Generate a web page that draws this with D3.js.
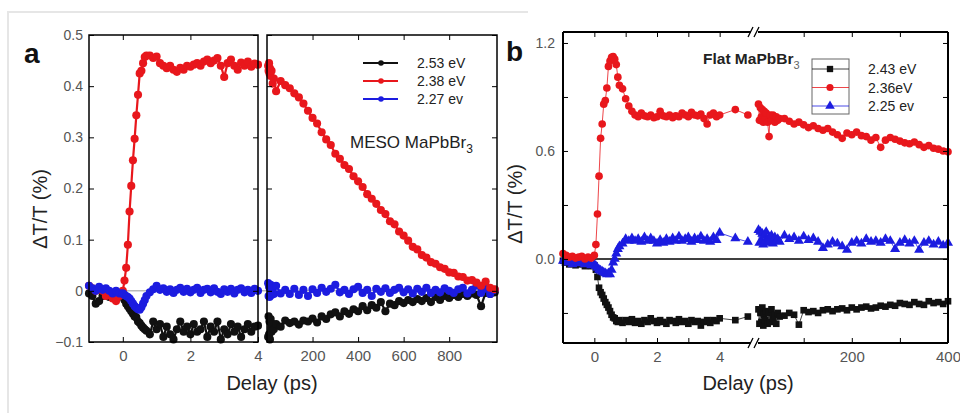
<!DOCTYPE html>
<html>
<head>
<meta charset="utf-8">
<script src="https://cdn.jsdelivr.net/npm/d3@7"></script>
<style>
    body { margin: 0; background: #fff; }
    svg { display: block; font-family: Arial, "Liberation Sans", sans-serif; }
</style>
</head>
<body>
<svg id="chart" width="960" height="415"></svg>
<script>
"use strict";

// ---- panel a : MESO MaPbBr3, short delays (ps)
const tA1 = [-1.0, -0.9, -0.8, -0.7, -0.6, -0.5, -0.4, -0.3, -0.2, -0.1, 0.0,
    0.05, 0.1, 0.15, 0.2, 0.25, 0.3, 0.35, 0.4, 0.45, 0.5, 0.55, 0.6, 0.65, 0.7,
    0.8, 0.9, 1.0, 1.1, 1.2, 1.3, 1.4, 1.5, 1.6, 1.7, 1.8, 1.9, 2.0, 2.1, 2.2, 2.3, 2.4,
    2.5, 2.6, 2.7, 2.8, 2.9, 3.0, 3.1, 3.2, 3.3, 3.4, 3.5, 3.6, 3.7, 3.8, 3.9, 4.0];
const blackA1 = [-0.005, -0.01, -0.025, -0.02, -0.01, -0.005, -0.012, -0.008, -0.015, -0.01, -0.012,
    -0.018, -0.025, -0.03, -0.035, -0.04, -0.045, -0.05, -0.052, -0.06, -0.063, -0.068, -0.072, -0.075, -0.078,
    -0.085, -0.06, -0.075, -0.065, -0.09, -0.07, -0.085, -0.095, -0.075, -0.06, -0.08, -0.07, -0.085, -0.065,
    -0.08, -0.075, -0.06, -0.09, -0.07, -0.08, -0.06, -0.095, -0.075, -0.085, -0.065, -0.08, -0.07, -0.09,
    -0.075, -0.065, -0.08, -0.07, -0.068];
const redA1 = [0.01, 0.005, 0.0, 0.005, 0.0, -0.01, -0.005, -0.015, -0.02, -0.01, 0.0,
    0.02, 0.045, 0.09, 0.155, 0.205, 0.255, 0.297, 0.343, 0.383, 0.425, 0.43, 0.445, 0.457, 0.46,
    0.46, 0.455, 0.458, 0.445, 0.44, 0.435, 0.44, 0.432, 0.428, 0.436, 0.432, 0.44, 0.438, 0.442,
    0.445, 0.44, 0.448, 0.452, 0.445, 0.45, 0.455, 0.44, 0.418, 0.445, 0.452, 0.44, 0.432, 0.446,
    0.44, 0.448, 0.438, 0.444, 0.442];
const blueA1 = [0.01, 0.005, 0.0, 0.008, 0.002, 0.005, 0.0, -0.005, 0.0, -0.005, -0.005,
    -0.008, -0.01, -0.012, -0.015, -0.02, -0.025, -0.03, -0.033, -0.036, -0.037, -0.032, -0.025, -0.018, -0.01,
    -0.003, 0.003, 0.01, 0.002, 0.005, -0.002, 0.003, -0.004, 0.002, 0.006, -0.002, 0.004, -0.003, 0.002,
    0.006, -0.004, 0.002, 0.004, -0.003, 0.005, -0.002, -0.006, 0.003, -0.002, 0.004, -0.005, 0.002, 0.005,
    -0.003, 0.002, -0.004, 0.004, 0.0];

// ---- panel a : long delays (ps)
const tA2 = [5, 7, 9, 11, 13, 16, 20, 25, 30,
    40, 60, 80, 100, 120, 140, 160, 180, 200, 220, 240, 260, 280, 300,
    320, 340, 360, 380, 400, 420, 440, 460, 480, 500, 520, 540, 560, 580, 600, 620, 640, 660,
    680, 700, 720, 740, 760, 780, 800, 820, 840, 860, 880, 900, 920, 940, 960, 980, 1000];
const blackA2 = [-0.09, -0.05, -0.085, -0.06, -0.095, -0.055, -0.08, -0.065, -0.075,
    -0.065, -0.07, -0.058, -0.063, -0.06, -0.066, -0.058, -0.06, -0.054,
    -0.062, -0.05, -0.055, -0.046, -0.042, -0.05, -0.04, -0.045, -0.036, -0.04,
    -0.03, -0.038, -0.028, -0.033, -0.022, -0.04, -0.025, -0.028, -0.02, -0.024,
    -0.018, -0.022, -0.016, -0.02, -0.014, -0.022, -0.012, -0.018, -0.01, -0.014,
    -0.008, -0.012, -0.006, -0.01, -0.005, -0.008, -0.03, -0.004, -0.006, -0.003];
const redA2 = [0.44, 0.43, 0.445, 0.425, 0.435, 0.42, 0.43, 0.405, 0.415,
    0.39, 0.41, 0.402, 0.396, 0.386, 0.378, 0.366, 0.352, 0.338,
    0.327, 0.31, 0.296, 0.285, 0.268, 0.258, 0.246, 0.238, 0.224, 0.214,
    0.203, 0.189, 0.18, 0.17, 0.158, 0.15, 0.136, 0.13, 0.116, 0.108,
    0.098, 0.086, 0.081, 0.07, 0.065, 0.056, 0.053, 0.046, 0.043, 0.036,
    0.035, 0.028, 0.027, 0.02, 0.021, 0.016, 0.01, 0.018, 0.006, 0.003];
const blueA2 = [0.015, -0.01, 0.008, -0.012, 0.005, 0.012, -0.008, 0.004, -0.006,
    0.01, -0.005, 0.002, -0.006, 0.004, -0.008, 0.002, -0.01, 0.003,
    -0.004, 0.006, -0.002, 0.004, 0.012, -0.003, 0.002, -0.006, 0.003, 0.008,
    -0.004, 0.002, -0.01, 0.004, -0.002, 0.005, -0.004, 0.002, 0.006, -0.003,
    0.003, -0.005, 0.004, -0.002, 0.006, -0.004, 0.002, -0.003, 0.005, 0.0,
    -0.004, 0.003, 0.006, -0.005, 0.002, 0.01, -0.004, 0.004, -0.006, 0.002];

// ---- panel b : Flat MaPbBr3, short delays (ps)
const tB1 = [-1.0, -0.9, -0.8, -0.7, -0.6, -0.5, -0.4, -0.3, -0.2, -0.1, 0.0,
    0.05, 0.1, 0.15, 0.2, 0.25, 0.3, 0.35, 0.4, 0.45, 0.5, 0.55, 0.6, 0.65, 0.7, 0.75, 0.8,
    0.9, 1.0, 1.1, 1.2, 1.3, 1.4, 1.5, 1.6, 1.7, 1.8, 1.9, 2.0, 2.1, 2.2, 2.3, 2.4, 2.5, 2.6,
    2.7, 2.8, 2.9, 3.0, 3.1, 3.2, 3.3, 3.4, 3.5, 3.6, 3.7, 3.8, 3.9, 4.0,
    4.5, 4.9];
const blackB1 = [-0.01, -0.02, -0.03, -0.02, -0.035, -0.03, -0.025, -0.04, -0.03, -0.04, -0.035,
    -0.06, -0.1, -0.16, -0.185, -0.2, -0.22, -0.24, -0.255, -0.27, -0.29, -0.31, -0.325, -0.33, -0.345, -0.35, -0.34,
    -0.355, -0.34, -0.35, -0.335, -0.355, -0.345, -0.36, -0.34, -0.35, -0.33, -0.345, -0.355, -0.34, -0.35,
    -0.36, -0.34, -0.345, -0.355, -0.335, -0.35, -0.345, -0.36, -0.34, -0.35, -0.345, -0.37, -0.35, -0.34,
    -0.355, -0.34, -0.345, -0.33,
    -0.34, -0.32];
const redB1 = [0.03, 0.02, 0.01, 0.015, 0.005, 0.01, 0.015, 0.0, 0.01, 0.005, 0.02,
    0.08, 0.25, 0.46, 0.67, 0.75, 0.86, 0.88, 0.95, 1.07, 1.1, 1.12, 1.125, 1.11, 1.08, 1.01, 0.965,
    0.945, 0.89, 0.85, 0.82, 0.8, 0.79, 0.81, 0.795, 0.79, 0.8, 0.785, 0.79, 0.82, 0.795,
    0.79, 0.8, 0.785, 0.795, 0.79, 0.81, 0.8, 0.79, 0.815, 0.8, 0.795, 0.805, 0.78, 0.75,
    0.8, 0.81, 0.79, 0.8,
    0.83, 0.8];
const blueB1 = [-0.01, -0.02, -0.015, -0.03, -0.02, -0.025, -0.015, -0.03, -0.025, -0.035, -0.03,
    -0.04, -0.05, -0.06, -0.065, -0.07, -0.075, -0.08, -0.085, -0.08, -0.085, -0.06, -0.02, 0.0, 0.03, 0.055, 0.07,
    0.085, 0.11, 0.1, 0.115, 0.1, 0.11, 0.095, 0.12, 0.1, 0.115, 0.1, 0.085, 0.105, 0.09,
    0.11, 0.095, 0.115, 0.1, 0.125, 0.1, 0.11, 0.12, 0.095, 0.115, 0.105, 0.125, 0.1, 0.11,
    0.095, 0.12, 0.105, 0.145,
    0.115, 0.095];

// ---- panel b : long delays (ps)
const tB2 = [6, 8, 10, 12, 14, 16, 18, 20, 22, 25, 28, 30, 33, 36, 40, 43, 46, 50,
    60, 70, 80, 90, 100, 110, 120, 130, 140, 150, 160, 170, 180, 190, 200, 210, 220, 230,
    240, 250, 260, 270, 280, 290, 300, 310, 320, 330, 340, 350, 360, 370, 380, 390, 400];
const blackB2 = [-0.28, -0.36, -0.3, -0.35, -0.27, -0.37, -0.31, -0.34, -0.29, -0.36, -0.3, -0.35,
    -0.28, -0.33, -0.31, -0.36, -0.3, -0.32,
    -0.315, -0.3, -0.31, -0.365, -0.285, -0.295, -0.29, -0.3, -0.285, -0.28, -0.29, -0.28,
    -0.275, -0.285, -0.27, -0.28, -0.27, -0.265, -0.275, -0.27, -0.26, -0.265, -0.255, -0.26,
    -0.245, -0.25, -0.255, -0.24, -0.25, -0.255, -0.235, -0.245, -0.24, -0.25, -0.235];
const redB2 = [0.86, 0.77, 0.84, 0.79, 0.83, 0.76, 0.82, 0.78, 0.81, 0.76, 0.68, 0.8,
    0.77, 0.8, 0.76, 0.79, 0.77, 0.78,
    0.78, 0.765, 0.75, 0.76, 0.745, 0.73, 0.74, 0.725, 0.715, 0.725, 0.705, 0.69,
    0.67, 0.7, 0.69, 0.705, 0.685, 0.68, 0.66, 0.675, 0.62, 0.66, 0.675, 0.665,
    0.655, 0.645, 0.64, 0.65, 0.635, 0.62, 0.63, 0.615, 0.61, 0.6, 0.595];
const blueB2 = [0.16, 0.09, 0.15, 0.1, 0.14, 0.08, 0.13, 0.1, 0.15, 0.09, 0.12, 0.1,
    0.13, 0.085, 0.12, 0.1, 0.11, 0.095,
    0.13, 0.11, 0.12, 0.1, 0.125, 0.105, 0.115, 0.095, 0.06, 0.08, 0.095, 0.085,
    0.07, 0.05, 0.09, 0.1, 0.085, 0.11, 0.095, 0.1, 0.09, 0.11, 0.1, 0.055,
    0.09, 0.105, 0.085, 0.1, 0.05, 0.09, 0.1, 0.08, 0.095, 0.075, 0.09];

const seriesA = ["2.53 eV", "2.38 eV", "2.27 ev"];
const seriesB = ["2.43 eV", "2.36eV", "2.25 ev"];
const yTicksA = [-0.1, 0, 0.1, 0.2, 0.3, 0.4, 0.5];
const yTicksB = [-0.3, 0, 0.3, 0.6, 0.9, 1.2];
const yLabelsB = [0, 0.6, 1.2];

const RED = "#e8171c", BLUE = "#1c1ce0", BLACK = "#111";
const TICKCOL = "#555";

const svg = d3.select("#chart");

// faint page frame
svg.append("path").attr("d", "M8,413V12H528").attr("fill", "none")
    .attr("stroke", "#e6e6e6").attr("stroke-width", 2);

function drawSeries(g, xs, ys, times, values, color, shape, size, lineW) {
    const pts = times.map(function (t, i) { return [xs(t), ys(values[i])]; });
    g.append("path").attr("d", d3.line()(pts)).attr("fill", "none")
        .attr("stroke", color).attr("stroke-width", lineW);
    g.selectAll(null).data(pts).enter().append("path")
        .attr("transform", function (d) { return "translate(" + d[0] + "," + d[1] + ")"; })
        .attr("d", d3.symbol().type(shape).size(size))
        .attr("fill", color);
}

function tickAxis(g, axis, transform, fontSize) {
    const a = g.append("g").attr("transform", transform).call(axis);
    a.select(".domain").remove();
    a.selectAll("line").attr("stroke", "#000").attr("stroke-width", 1);
    a.selectAll("text").attr("fill", TICKCOL).style("font-size", fontSize + "px")
        .style("font-family", "Arial, 'Liberation Sans', sans-serif");
    return a;
}

// ================= panel a =================
(function () {
    const top = 35, bottom = 342;
    const yA = d3.scaleLinear().domain([-0.1, 0.5]).range([bottom, top]);
    const xA1 = d3.scaleLinear().domain([-1, 4]).range([89, 258]);
    const xA2 = d3.scaleLinear().domain([0, 1010]).range([267, 497]);
    const g = svg.append("g");

    // zero line
    g.append("line").attr("x1", 89).attr("x2", 497).attr("y1", yA(0)).attr("y2", yA(0))
        .attr("stroke", "#999").attr("stroke-width", 1);

    const ms = 52;
    drawSeries(g, xA1, yA, tA1, blackA1, BLACK, d3.symbolCircle, ms, 2.2);
    drawSeries(g, xA1, yA, tA1, redA1, RED, d3.symbolCircle, ms, 2.2);
    drawSeries(g, xA1, yA, tA1, blueA1, BLUE, d3.symbolCircle, ms, 2.2);
    drawSeries(g, xA2, yA, tA2, blackA2, BLACK, d3.symbolCircle, ms, 2.2);
    drawSeries(g, xA2, yA, tA2, blueA2, BLUE, d3.symbolCircle, ms, 2.2);
    drawSeries(g, xA2, yA, tA2, redA2, RED, d3.symbolCircle, ms, 2.2);

    // frames
    [[89, 258], [267, 497]].forEach(function (r) {
        g.append("rect").attr("x", r[0]).attr("y", top).attr("width", r[1] - r[0])
            .attr("height", bottom - top).attr("fill", "none").attr("stroke", "#000").attr("stroke-width", 1.5);
    });

    const fmtA = function (d) { return d === 0 ? "0" : d3.format(".1f")(d); };
    tickAxis(g, d3.axisLeft(yA).tickValues(yTicksA).tickSize(-5).tickPadding(6).tickFormat(fmtA), "translate(89,0)", 14);
    tickAxis(g, d3.axisRight(yA).tickValues(yTicksA).tickSize(-5).tickFormat(""), "translate(258,0)", 14);
    tickAxis(g, d3.axisLeft(yA).tickValues(yTicksA).tickSize(-5).tickFormat(""), "translate(267,0)", 14);
    tickAxis(g, d3.axisRight(yA).tickValues(yTicksA).tickSize(-5).tickFormat(""), "translate(497,0)", 14);
    tickAxis(g, d3.axisBottom(xA1).tickValues([0, 2, 4]).tickSize(-5).tickPadding(8).tickFormat(d3.format("d")), "translate(0," + bottom + ")", 15);
    tickAxis(g, d3.axisTop(xA1).tickValues([0, 2]).tickSize(-5).tickFormat(""), "translate(0," + top + ")", 15);
    tickAxis(g, d3.axisBottom(xA2).tickValues([200, 400, 600, 800]).tickSize(-5).tickPadding(8).tickFormat(d3.format("d")), "translate(0," + bottom + ")", 15);
    tickAxis(g, d3.axisTop(xA2).tickValues([200, 400, 600, 800]).tickSize(-5).tickFormat(""), "translate(0," + top + ")", 15);

    // legend
    const legColors = [BLACK, RED, BLUE];
    seriesA.forEach(function (name, i) {
        const y = 63 + i * 18;
        g.append("line").attr("x1", 363).attr("x2", 398).attr("y1", y).attr("y2", y)
            .attr("stroke", legColors[i]).attr("stroke-width", 2);
        g.append("circle").attr("cx", 381).attr("cy", y).attr("r", 2.8).attr("fill", legColors[i]);
        g.append("text").attr("x", 417).attr("y", y + 5).text(name)
            .style("font-size", "14px").attr("fill", "#222");
    });

    const lab = g.append("text").attr("x", 350).attr("y", 148).style("font-size", "17px").attr("fill", "#222");
    lab.append("tspan").text("MESO MaPbBr");
    lab.append("tspan").attr("dy", 5).style("font-size", "12px").text("3");

    g.append("text").attr("x", 24).attr("y", 63).text("a")
        .style("font-size", "28px").style("font-weight", "bold").attr("fill", "#111");
    g.append("text").attr("transform", "translate(47,209) rotate(-90)").attr("text-anchor", "middle")
        .text("\u0394T/T (%)").style("font-size", "20px").attr("fill", "#222");
    g.append("text").attr("x", 272).attr("y", 390).attr("text-anchor", "middle")
        .text("Delay (ps)").style("font-size", "20px").attr("fill", "#222");
})();

// ================= panel b =================
(function () {
    const top = 32, bottom = 343, left = 563, right = 948;
    const yB = d3.scaleLinear().domain([-0.467, 1.261]).range([bottom, top]);
    const xB1 = d3.scaleLinear().domain([-1, 5]).range([left, 751]);
    const xB2 = d3.scaleLinear().domain([5, 400]).range([758, right]);
    const g = svg.append("g");

    g.append("line").attr("x1", left).attr("x2", right).attr("y1", yB(0)).attr("y2", yB(0))
        .attr("stroke", "#000").attr("stroke-width", 1.6);

    const shapes = [d3.symbolSquare, d3.symbolCircle, d3.symbolTriangle];
    drawSeries(g, xB1, yB, tB1, blackB1, BLACK, shapes[0], 44, 0.8);
    drawSeries(g, xB1, yB, tB1, blueB1, BLUE, shapes[2], 44, 0.8);
    drawSeries(g, xB1, yB, tB1, redB1, RED, shapes[1], 46, 0.8);
    drawSeries(g, xB2, yB, tB2, blackB2, BLACK, shapes[0], 44, 0.8);
    drawSeries(g, xB2, yB, tB2, blueB2, BLUE, shapes[2], 44, 0.8);
    drawSeries(g, xB2, yB, tB2, redB2, RED, shapes[1], 46, 0.8);

    // frame with broken x axis
    const fr = "M" + left + "," + top + "V" + bottom + "M" + right + "," + top + "V" + bottom +
        "M" + left + "," + top + "H751M758," + top + "H" + right +
        "M" + left + "," + bottom + "H751M758," + bottom + "H" + right;
    g.append("path").attr("d", fr).attr("fill", "none").attr("stroke", "#000").attr("stroke-width", 2);
    [top, bottom].forEach(function (y) {
        g.append("path").attr("d", "M748," + (y + 5) + "L753," + (y - 5) + "M754," + (y + 5) + "L759," + (y - 5))
            .attr("fill", "none").attr("stroke", "#000").attr("stroke-width", 1.3);
    });

    const fmtB = function (d) { return yLabelsB.indexOf(d) >= 0 ? d3.format(".1f")(d) : ""; };
    tickAxis(g, d3.axisLeft(yB).tickValues(yTicksB).tickSize(-5).tickPadding(8).tickFormat(fmtB), "translate(" + left + ",0)", 14);
    tickAxis(g, d3.axisRight(yB).tickValues(yTicksB).tickSize(-5).tickFormat(""), "translate(" + right + ",0)", 14);
    const fmtX1 = function (d) { return d % 2 === 0 ? String(d) : ""; };
    tickAxis(g, d3.axisBottom(xB1).tickValues([0, 1, 2, 3, 4]).tickSize(-5).tickPadding(8).tickFormat(fmtX1), "translate(0," + bottom + ")", 15);
    tickAxis(g, d3.axisTop(xB1).tickValues([0, 1, 2, 3, 4]).tickSize(-5).tickFormat(""), "translate(0," + top + ")", 15);
    const fmtX2 = function (d) { return d % 200 === 0 ? String(d) : ""; };
    tickAxis(g, d3.axisBottom(xB2).tickValues([100, 200, 300, 400]).tickSize(-5).tickPadding(8).tickFormat(fmtX2), "translate(0," + bottom + ")", 15);
    tickAxis(g, d3.axisTop(xB2).tickValues([100, 200, 300]).tickSize(-5).tickFormat(""), "translate(0," + top + ")", 15);

    // legend
    g.append("rect").attr("x", 812).attr("y", 59).attr("width", 37).attr("height", 55)
        .attr("fill", "#fff").attr("stroke", "#666").attr("stroke-width", 1);
    const legColors = [BLACK, RED, BLUE];
    const legShapes = [shapes[0], shapes[1], shapes[2]];
    seriesB.forEach(function (name, i) {
        const y = 69 + i * 18.5;
        g.append("line").attr("x1", 812).attr("x2", 849).attr("y1", y).attr("y2", y)
            .attr("stroke", legColors[i]).attr("stroke-width", 0.8);
        g.append("path").attr("transform", "translate(830," + y + ")")
            .attr("d", d3.symbol().type(legShapes[i]).size(40)).attr("fill", legColors[i]);
        g.append("text").attr("x", 868).attr("y", y + 5).text(name)
            .style("font-size", "14px").attr("fill", "#222");
    });

    const lab = g.append("text").attr("x", 703).attr("y", 64).style("font-size", "15.5px")
        .style("font-weight", "bold").attr("fill", "#222");
    lab.append("tspan").text("Flat MaPbBr");
    lab.append("tspan").attr("dy", 5).style("font-size", "11px").style("font-weight", "normal")
        .attr("fill", "#666").text("3");

    g.append("text").attr("x", 506).attr("y", 61).text("b")
        .style("font-size", "28px").style("font-weight", "bold").attr("fill", "#111");
    g.append("text").attr("transform", "translate(522,204) rotate(-90)").attr("text-anchor", "middle")
        .text("\u0394T/T (%)").style("font-size", "20px").attr("fill", "#222");
    g.append("text").attr("x", 748).attr("y", 390).attr("text-anchor", "middle")
        .text("Delay (ps)").style("font-size", "20px").attr("fill", "#222");
})();
</script>
</body>
</html>
